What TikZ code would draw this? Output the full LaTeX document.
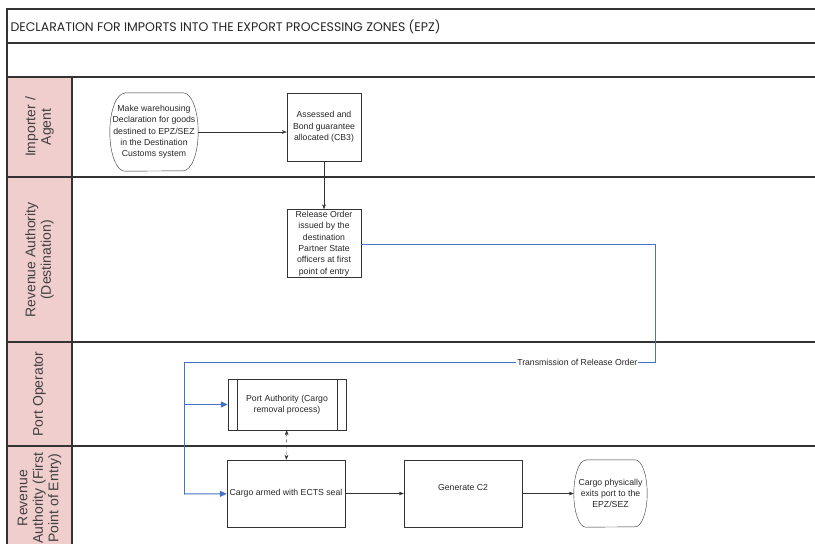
\documentclass[tikz,border=0pt]{standalone}
\usepackage{fontspec}
\setmainfont{Liberation Sans}
\newfontfamily\titlefont{Poppins}
\usepackage{tikz}
\usetikzlibrary{arrows.meta}
\usetikzlibrary{positioning}
\usetikzlibrary{calc}
\definecolor{lanepink}{RGB}{240,206,206}
\definecolor{flowblue}{RGB}{68,114,196}
% outline of a terminator: node name, side bulge, half height
\newcommand{\drawterm}[3]{%
	\draw[black!80] ($(#1.north west)+(#2,0)$) -- ($(#1.north east)+(-#2,0)$)
	arc[start angle=90, end angle=-90, x radius=#2pt, y radius=#3pt]
	-- ($(#1.south west)+(#2,0)$)
	arc[start angle=270, end angle=90, x radius=#2pt, y radius=#3pt] -- cycle;}

\begin{document}
\begin{tikzpicture}[x=1pt, y=-1pt, every node/.style={font=\fontsize{8.7}{11.3}\selectfont, align=center, text=black!85},
	proc/.style={draw=black!80, rectangle, minimum width=74pt, minimum height=68pt, inner sep=1pt},
	wide/.style={proc, minimum width=118pt, minimum height=67pt},
	term/.style={rectangle, inner sep=0pt},
	lanetext/.style={rotate=90, font=\fontsize{14}{15.5}\selectfont, text=black!75},
	frame/.style={draw=black!80, line width=1.2pt}]
	
	\useasboundingbox (0,0) rectangle (815,544);
	
	% frame and lanes
	\fill[lanepink] (7,77) rectangle (72,550);
	\draw[frame] (815,9) -- (7,9) -- (7,550);
	\draw[frame] (72,77) -- (72,550);
	\draw[frame] (7,43) -- (815,43);
	\draw[frame] (7,77) -- (815,77);
	\draw[frame] (7,177) -- (815,177);
	\draw[frame] (7,342) -- (815,342);
	\draw[frame] (7,446) -- (815,446);
	
	\node[anchor=west, font=\titlefont\fontsize{12.5}{14}\selectfont] (title) at (7,27) {DECLARATION FOR IMPORTS INTO THE EXPORT PROCESSING ZONES (EPZ)};
	
	\node[lanetext] (lane1) at (39.5,127) {Importer /\\Agent};
	\node[lanetext] (lane2) at (39.5,260) {Revenue Authority\\(Destination)};
	\node[lanetext] (lane3) at (39.5,394) {Port Operator};
	\node[lanetext] (lane4) at (39.5,498) {Revenue\\Authority (First\\Point of Entry)};
	
	% steps
	\node[term, minimum width=88pt, minimum height=78pt] (n1) at (154,132) {Make warehousing\\Declaration for goods\\destined to EPZ/SEZ\\in the Destination\\Customs system};
	\node[proc] (n2) at (324,127) {Assessed and\\Bond guarantee\\allocated (CB3)};
	\node[proc] (n3) at (324,243.5) {Release Order\\issued by the\\destination\\Partner State\\officers at first\\point of entry};
	\node[wide, minimum height=51pt] (n4) at (287,404.5) {Port Authority (Cargo\\removal process)};
	\node[wide] (n5) at (286,493.5) {Cargo armed with ECTS seal};
	\node[wide] (n6) at (463,493.5) {Generate C2\\\mbox{}};
	\node[term, minimum width=73pt, minimum height=67pt] (n7) at (610.5,493.5) {Cargo physically\\exits port to the\\EPZ/SEZ};
	\drawterm{n1}{15}{39}
	\drawterm{n7}{12}{33.5}
	\draw[black!80] ([xshift=9pt]n4.north west) -- ([xshift=9pt]n4.south west);
	\draw[black!80] ([xshift=-9pt]n4.north east) -- ([xshift=-9pt]n4.south east);
	
	% connectors
	\draw[black!80, -{Stealth[length=5pt]}] (n1.east) -- (n1.east -| n2.west);
	\draw[black!80, -{Stealth[length=5pt]}] (n2) -- (n3);
	\draw[black!80, dashed, {Stealth[length=5pt]}-{Stealth[length=5pt]}] (n4) -- (n5);
	\draw[black!80, -{Stealth[length=5pt]}] (n5) -- (n6);
	\draw[black!80, -{Stealth[length=5pt]}] (n6) -- (n7);
	
	% release order
	\coordinate (t1) at (655,244);
	\coordinate (t2) at (655,362);
	\coordinate (t3) at (184,362);
	\coordinate (t4) at (184,404.5);
	\coordinate (t5) at (184,494);
	\draw[flowblue, line width=1pt] (n3.east |- t1) -- (t1) -- (t2) -- node[pos=0.165, fill=white, inner sep=1pt] {Transmission of Release Order} (t3) -- (t5);
	\draw[flowblue, line width=1pt, -{Triangle[length=7pt, width=6pt]}] (t4) -- (n4);
	\draw[flowblue, line width=1pt, -{Triangle[length=7pt, width=6pt]}] (t5) -- (n5);
\end{tikzpicture}
\end{document}
